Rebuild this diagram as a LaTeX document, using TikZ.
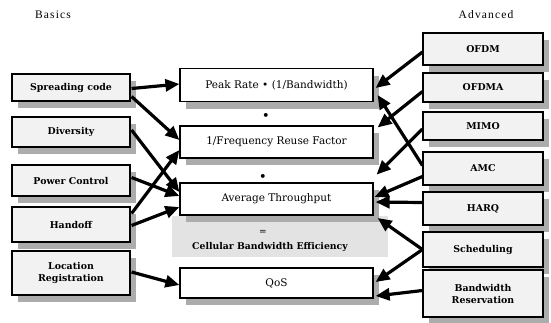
\documentclass[tikz,border=0pt]{standalone}
\usepackage{fontspec}
\setmainfont{DejaVu Serif}
\newfontfamily\headfont[LetterSpace=10]{Liberation Serif}
\usetikzlibrary{arrows.meta,shadows,calc}

\begin{document}
\begin{tikzpicture}[x=1pt,y=-1pt,
  boxshadow/.style={drop shadow={shadow xshift=6pt, shadow yshift=-7pt, opacity=1, fill=gray!65}},
  sidebox/.style={draw=black, line width=1.1pt, fill=gray!10, minimum width=118pt,
    align=center, inner sep=0pt, font=\bfseries\fontsize{9.4}{12}\selectfont, boxshadow},
  midbox/.style={draw=black, line width=1.2pt, fill=white, minimum width=193pt,
    inner sep=0pt, font=\fontsize{10.5}{12}\selectfont, boxshadow},
  head/.style={font=\headfont\fontsize{11.5}{13}\selectfont},
  link/.style={line width=3.2pt, -{Triangle[length=14pt,width=12pt]}},
  op/.style={font=\bfseries\fontsize{11}{12}\selectfont, inner sep=0pt},
]
\useasboundingbox (0,0) rectangle (551,322);

% headings
\node[head] (basics) at (53,15) {Basics};
\node[head] (advanced) at (486,15) {Advanced};

% shaded band under the throughput box
\fill[gray!22] (172,216) rectangle (388,257);
\node[op, font=\fontsize{9}{10}\selectfont] (eq) at (263,232) {=};
\node[font=\bfseries\fontsize{9.3}{10}\selectfont, inner sep=0pt] (cbe) at (270,247) {Cellular Bandwidth Efficiency};

% metric boxes
\node[midbox, minimum height=33pt] (peak) at (276.5,85) {Peak Rate • (1/Bandwidth)};
\node[op] (dot1) at (266,116) {•};
\node[midbox, minimum height=32pt] (freq) at (276.5,142) {1/Frequency Reuse Factor};
\node[op] (dot2) at (263,177) {•};
\node[midbox, minimum height=32pt] (avg) at (276.5,199) {Average Throughput};
\node[midbox, minimum height=30pt] (qos) at (276.5,283) {QoS};

% basic techniques
\node[sidebox, minimum height=27pt] (sc) at (71,87.5) {Spreading code};
\node[sidebox, minimum height=30pt] (div) at (71,132) {Diversity};
\node[sidebox, minimum height=31pt] (pc) at (71,180.5) {Power Control};
\node[sidebox, minimum height=35pt] (ho) at (71,224.5) {Handoff};
\node[sidebox, minimum height=44pt] (lr) at (71,273) {Location\\Registration};

% advanced techniques
\node[sidebox, minimum width=120pt, minimum height=32pt] (ofdm) at (483,49) {OFDM};
\node[sidebox, minimum width=120pt, minimum height=29pt] (ofdma) at (483,87.5) {OFDMA};
\node[sidebox, minimum width=120pt, minimum height=28pt] (mimo) at (483,126) {MIMO};
\node[sidebox, minimum width=120pt, minimum height=33pt] (amc) at (483,168.5) {AMC};
\node[sidebox, minimum width=120pt, minimum height=33pt] (harq) at (483,208.5) {HARQ};
\node[sidebox, minimum width=120pt, minimum height=35pt] (sched) at (483,249.5) {Scheduling};
\node[sidebox, minimum width=120pt, minimum height=47pt] (bwres) at (483,293.5) {Bandwidth\\Reservation};

\coordinate (mimotip) at ($(freq.south east)+(3,16)$);

% links from basic techniques
\draw[link] ($(sc.east)+(1,1)$) -- ($(peak.west)+(0,-1)$);
\draw[link] ($(sc.east)+(1,9)$) -- ($(freq.west)+(0,-2)$);
\draw[link] ($(div.east)+(1,-2)$) -- ($(avg.west)+(0,-7)$);
\draw[link] ($(pc.east)+(1,-3)$) -- ($(avg.west)+(0,-3)$);
\draw[link] ($(ho.east)+(1,-11)$) -- ($(freq.west)+(0,8)$);
\draw[link] ($(ho.east)+(1,1)$) -- ($(avg.west)+(0,8)$);
\draw[link] ($(lr.east)+(1,-1)$) -- ($(qos.west)+(0,2)$);

% links from advanced techniques
\draw[link] ($(ofdm.west)+(0,3)$) -- ($(peak.east)+(2,3)$);
\draw[link] ($(ofdma.west)+(0,4)$) -- ($(freq.north east)+(4,2)$);
\draw[link] ($(amc.west)+(0,-3)$) -- ($(peak.east)+(4,10)$);
\draw[link] ($(mimo.west)+(0,3)$) -- (mimotip);
\draw[link] ($(amc.west)+(0,8)$) -- ($(avg.east)+(1,-2)$);
\draw[link] ($(harq.west)+(0,-6)$) -- ($(avg.east)+(2,3)$);
\draw[link] (sched.west) -- ($(avg.east)+(4,19)$);
\draw[link] (sched.west) -- ($(qos.east)+(2,-1)$);
\draw[link] ($(bwres.west)+(0,-3)$) -- ($(qos.east)+(2,13)$);
\end{tikzpicture}
\end{document}
